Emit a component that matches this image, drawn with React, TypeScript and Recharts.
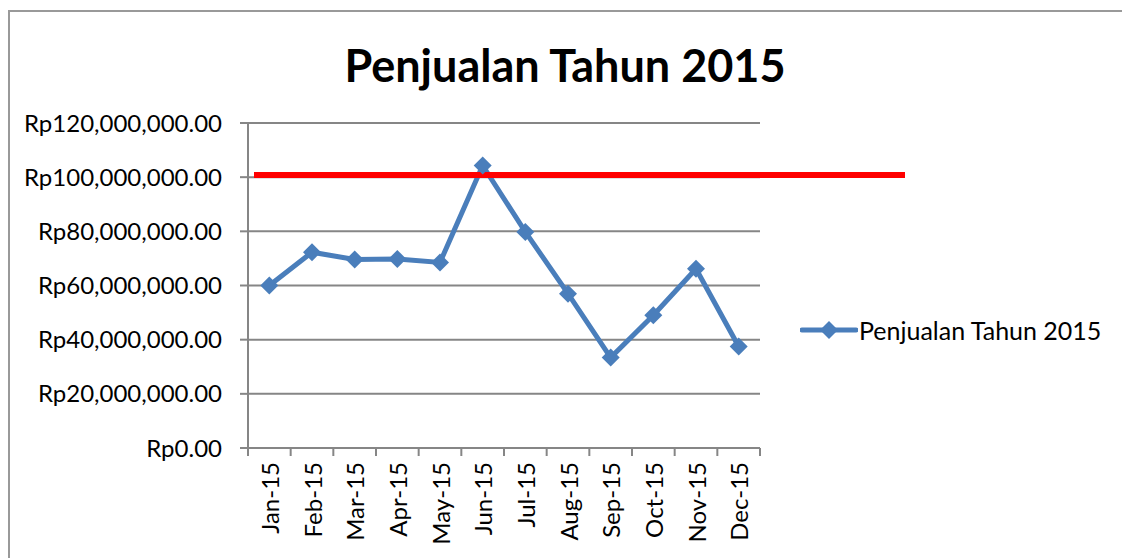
import React from "react";
import { LineChart, Line, XAxis, YAxis, CartesianGrid, ReferenceLine, Legend } from "recharts";

const months = ["Jan-15", "Feb-15", "Mar-15", "Apr-15", "May-15", "Jun-15", "Jul-15", "Aug-15", "Sep-15", "Oct-15", "Nov-15", "Dec-15"];
const sales = [60000000, 72300000, 69600000, 69800000, 68500000, 104300000, 79800000, 57000000, 33400000, 49000000, 66200000, 37500000];
const target = 100800000;
const yTicks = [0, 20000000, 40000000, 60000000, 80000000, 100000000, 120000000];
const seriesName = "Penjualan Tahun 2015";
const chartTitle = "Penjualan Tahun 2015";

const data = months.map((m, i) => ({ month: m, sales: sales[i] }));

const FONT = "Lato, 'Open Sans', sans-serif";
const BLUE = "#4a7ebb";
const GRAY = "#868686";

const fmt = (v: number) =>
  "Rp" + v.toLocaleString("en-US", { minimumFractionDigits: 2, maximumFractionDigits: 2 });

const XTick = (props: any) => {
  const { x, y, payload, index, visibleTicksCount } = props;
  const off = payload && payload.offset ? payload.offset : 0;
  const last = index === (visibleTicksCount ?? months.length) - 1;
  return (
    <g>
      <line x1={x - off} x2={x - off} y1={y} y2={y + 8} stroke={GRAY} strokeWidth={2} />
      {last && <line x1={x + off} x2={x + off} y1={y} y2={y + 8} stroke={GRAY} strokeWidth={2} />}
      <text
        x={x}
        y={y + 14}
        transform={`rotate(-90 ${x} ${y + 14})`}
        textAnchor="end"
        dominantBaseline="central"
        fontFamily={FONT}
        fontSize={24}
        fill="#000"
      >
        {payload.value}
      </text>
    </g>
  );
};

const Diamond = (props: any) => {
  const { cx, cy, index } = props;
  if (cx == null || cy == null) return <g key={index} />;
  const r = 9;
  return (
    <polygon
      key={index}
      points={`${cx},${cy - r} ${cx + r},${cy} ${cx},${cy + r} ${cx - r},${cy}`}
      fill={BLUE}
    />
  );
};

const RedShape = (props: any) => {
  const { x1, y1, x2, y2 } = props;
  return <line x1={x1 + 6} y1={y1} x2={x2 + 145} y2={y2} stroke="#ff0000" strokeWidth={6} />;
};

const LegendContent = () => (
  <div style={{ display: "flex", alignItems: "center", fontFamily: FONT, fontSize: 25, color: "#000", whiteSpace: "nowrap" }}>
    <svg width={58} height={20} style={{ display: "block" }}>
      <line x1={2} x2={56} y1={10} y2={10} stroke={BLUE} strokeWidth={5} strokeLinecap="round" />
      <polygon points="29,1 38,10 29,19 20,10" fill={BLUE} />
    </svg>
    <span style={{ marginLeft: 1 }}>{seriesName}</span>
  </div>
);

export default function App() {
  return (
    <div style={{ position: "relative", width: 1114, height: 530, overflow: "visible", background: "#fff" }}>
      <div style={{ position: "fixed", left: 0, top: 0, width: 1122, height: 558, overflow: "hidden", background: "#fff" }}>
        <div
          style={{
            position: "absolute",
            left: 8,
            top: 10,
            width: 1130,
            height: 560,
            borderTop: "2px solid #999",
            borderLeft: "2px solid #999",
            boxSizing: "border-box",
          }}
        />
        <div
          style={{
            position: "absolute",
            left: 8,
            width: 1114,
            top: 38,
            textAlign: "center",
            fontFamily: FONT,
            fontWeight: 700,
            fontSize: 45,
            lineHeight: "54px",
            color: "#000",
          }}
        >
          {chartTitle}
        </div>
        <div style={{ position: "absolute", left: 8, top: 8 }}>
          <LineChart width={1114} height={550} data={data} margin={{ top: 115, right: 362, bottom: 0, left: 0 }}>
            <CartesianGrid horizontal vertical={false} stroke={GRAY} strokeWidth={2} />
            <XAxis
              dataKey="month"
              scale="band"
              height={110}
              axisLine={{ stroke: GRAY, strokeWidth: 2 }}
              tickLine={false}
              tickSize={0}
              tickMargin={0}
              interval={0}
              tick={<XTick />}
            />
            <YAxis
              width={240}
              domain={[0, 120000000]}
              ticks={yTicks}
              tickFormatter={fmt}
              axisLine={{ stroke: GRAY, strokeWidth: 2 }}
              tickLine={{ stroke: GRAY, strokeWidth: 2 }}
              tickSize={8}
              tickMargin={18}
              tick={{ fontFamily: FONT, fontSize: 24, fill: "#000" }}
            />
            <Line
              dataKey="sales"
              name={seriesName}
              stroke={BLUE}
              strokeWidth={5}
              dot={<Diamond />}
              activeDot={false}
              isAnimationActive={false}
            />
            <ReferenceLine y={target} shape={<RedShape />} ifOverflow="visible" />
            <Legend
              content={<LegendContent />}
              layout="vertical"
              verticalAlign="middle"
              align="center"
              wrapperStyle={{ position: "absolute", left: 792, top: 307, width: 320 }}
            />
          </LineChart>
        </div>
      </div>
    </div>
  );
}
